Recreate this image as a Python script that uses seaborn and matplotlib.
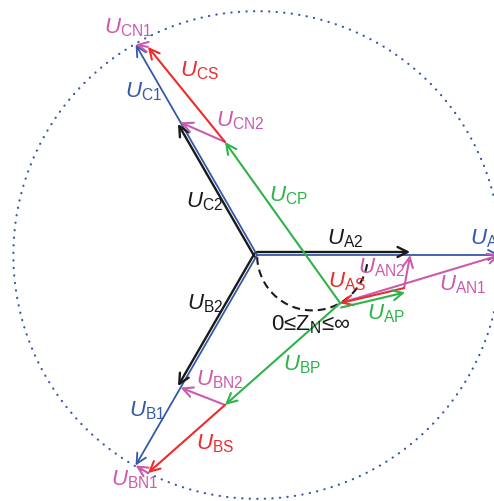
import numpy as np
import pandas as pd
import matplotlib
matplotlib.use("Agg")
import matplotlib.pyplot as plt
import seaborn as sns

# ---- phasor data (per-unit, phase-A source voltage = 1) ----
phases = ["A", "B", "C"]
phase_angle_deg = [0, -120, 120]
source_mag = [1.0, 1.0, 1.0]          # U_A1, U_B1, U_C1
load_mag = [0.63, 0.63, 0.63]         # U_A2, U_B2, U_C2
neutral_point = [0.342, -0.198]       # shifted neutral N'
junction_x = [0.605, -0.132, -0.132]  # tips of U_AP, U_BP, U_CP
junction_y = [-0.136, -0.617, 0.465]
series_end_x = [0.342, -0.449, -0.449]  # tips of U_AS, U_BS, U_CS
series_end_y = [-0.198, -0.897, 0.856]
locus_center = [0.228, 0.0]           # locus of N' for 0 <= Z_N <= inf
locus_radius = 0.228
locus_span_deg = [182, 355]

BLUE = "#3558aa"
BLACK = "#1a1a1a"
GREEN = "#2db34a"
RED = "#ee2a2a"
MAGENTA = "#cc5aad"

sns.set_theme(style="white")
plt.rcParams["font.family"] = ["Liberation Sans", "DejaVu Sans"]
plt.rcParams["mathtext.fontset"] = "custom"
plt.rcParams["mathtext.rm"] = "Liberation Sans"
plt.rcParams["mathtext.it"] = "Liberation Sans:italic"

fig = plt.figure(figsize=(4.94, 5.01), dpi=100)
ax = fig.add_axes([0, 0, 1, 1])
ax.set_xlim(-1.058, 0.975)
ax.set_ylim(-1.012, 1.049)
ax.axis("off")

ang = np.deg2rad(phase_angle_deg)
src = np.c_[np.array(source_mag) * np.cos(ang), np.array(source_mag) * np.sin(ang)]
load = np.c_[np.array(load_mag) * np.cos(ang), np.array(load_mag) * np.sin(ang)]
junc = np.c_[junction_x, junction_y]
send = np.c_[series_end_x, series_end_y]
npt = np.array(neutral_point)
origin = np.zeros(2)

# dotted circle through the source phasor tips
t = np.linspace(0, 2 * np.pi, 721)
circle = pd.DataFrame({"x": 1.003 * np.cos(t), "y": 1.003 * np.sin(t)})
sns.lineplot(data=circle, x="x", y="y", sort=False, estimator=None,
             errorbar=None, ax=ax, color=BLUE, lw=1.6,
             linestyle=(0, (0.1, 3.3)), dash_capstyle="round")

# dashed locus of the neutral point
tl = np.deg2rad(np.linspace(*locus_span_deg, 200))
locus = pd.DataFrame({"x": locus_center[0] + locus_radius * np.cos(tl),
                      "y": locus_center[1] + locus_radius * np.sin(tl)})
sns.lineplot(data=locus, x="x", y="y", sort=False, estimator=None,
             errorbar=None, ax=ax, color=BLACK, lw=1.5,
             linestyle=(0, (3.8, 2.4)))


def arrow(p0, p1, color, lw=1.5, offset=(0.0, 0.0)):
    p0 = np.asarray(p0) + offset
    p1 = np.asarray(p1) + offset
    ax.annotate("", xy=p1, xytext=p0, annotation_clip=False,
                arrowprops=dict(arrowstyle="->", color=color, lw=lw,
                                shrinkA=0, shrinkB=0, mutation_scale=18))


px = 1 / 243.0
black_offsets = [(0, 3.0 * px), (-2.6 * px, 1.5 * px), (-2.6 * px, -1.5 * px)]

for i in range(3):
    arrow(origin, src[i], BLUE, lw=1.3)
for i in range(3):
    arrow(origin, load[i], BLACK, lw=1.7, offset=black_offsets[i])

# magenta: junction -> load tip, series end -> source tip
for i in range(3):
    arrow(junc[i], load[i], MAGENTA)
    arrow(send[i], src[i], MAGENTA)

# red: series voltage drops
for i in range(3):
    arrow(junc[i], send[i], RED)

# green: neutral point -> junctions
arrow(npt, junc[0], GREEN, offset=(0.004, -0.018))
for i in (1, 2):
    arrow(npt, junc[i], GREEN)

# labels
labels = [
    ("CN1", MAGENTA, -0.531, 0.934, "center"),
    ("CS", RED, -0.235, 0.757, "center"),
    ("C1", BLUE, -0.469, 0.671, "center"),
    ("CN2", MAGENTA, -0.070, 0.551, "center"),
    ("C2", BLACK, -0.214, 0.218, "center"),
    ("CP", GREEN, 0.128, 0.243, "center"),
    ("A2", BLACK, 0.362, 0.066, "center"),
    ("A1", BLUE, 0.877, 0.066, "left"),
    ("AN2", MAGENTA, 0.514, -0.053, "center"),
    ("AS", RED, 0.370, -0.111, "center"),
    ("AN1", MAGENTA, 0.848, -0.123, "center"),
    ("AP", GREEN, 0.531, -0.243, "center"),
    ("B2", BLACK, -0.214, -0.202, "center"),
    ("BP", GREEN, 0.185, -0.453, "center"),
    ("BN2", MAGENTA, -0.152, -0.514, "center"),
    ("B1", BLUE, -0.453, -0.642, "center"),
    ("BS", RED, -0.173, -0.778, "center"),
    ("BN1", MAGENTA, -0.502, -0.926, "center"),
]
for sub, col, x, y, ha in labels:
    ax.text(x, y, r"$U_{\mathrm{%s}}$" % sub, color=col, fontsize=16,
            ha=ha, va="center")

ax.text(0.222, -0.288, r"0≤Z$_{\mathrm{N}}$≤∞", color=BLACK, fontsize=16,
        ha="center", va="center")

fig.savefig("out.png", dpi=100)
